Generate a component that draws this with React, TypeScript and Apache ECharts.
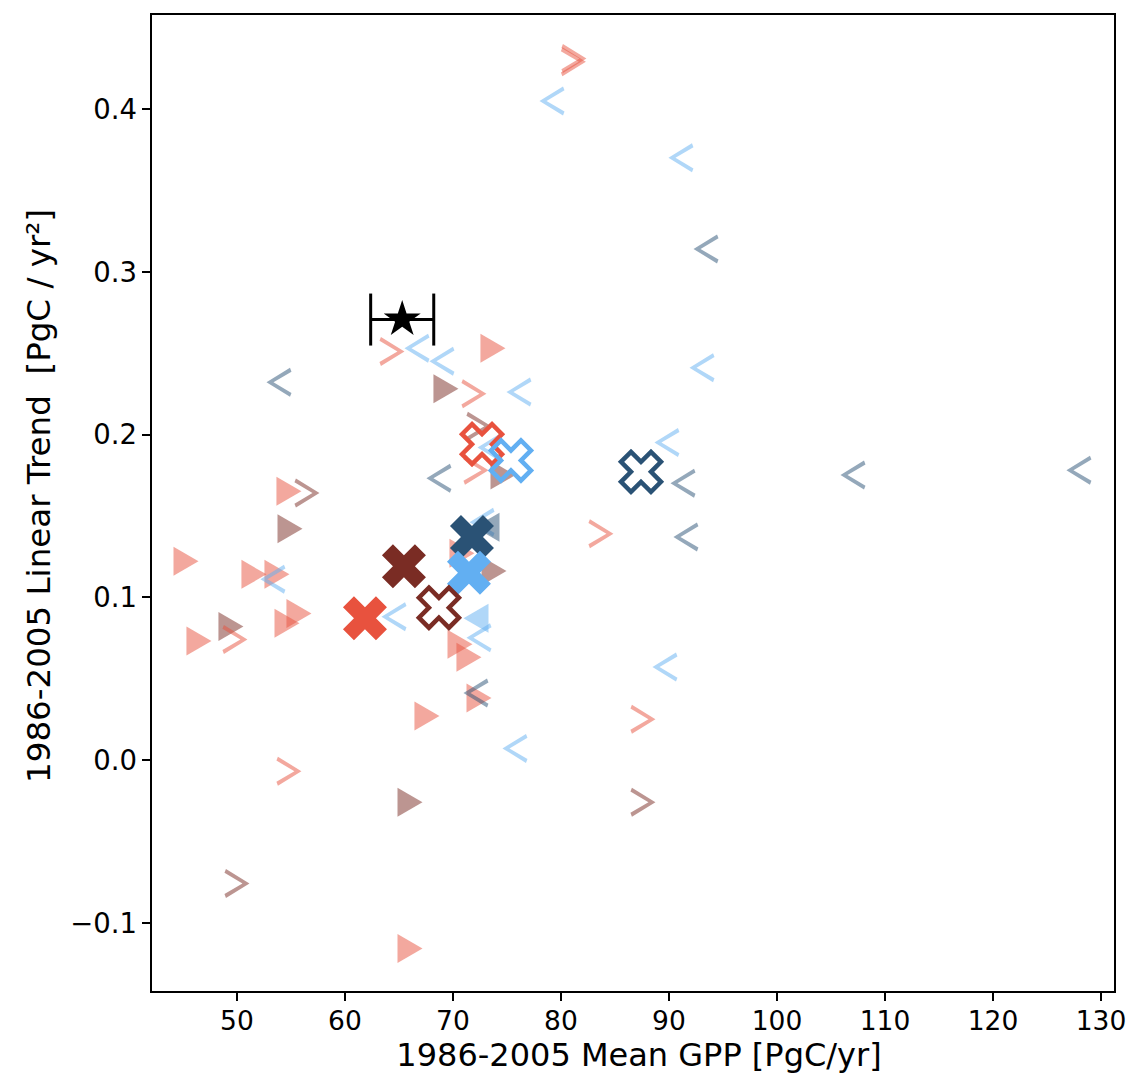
import React, { useEffect, useRef } from "react";
import * as echarts from "echarts";

// ---- axis ticks ----
const xTicks = [50, 60, 70, 80, 90, 100, 110, 120, 130];
const yTicks = [-0.1, 0.0, 0.1, 0.2, 0.3, 0.4];
const xRange = [42.04, 131.3];
const yRange = [-0.1427, 0.4584];

// ---- red family ----
const redTriangles = [
  [73.7, 0.253], [54.81, 0.165], [45.28, 0.122], [51.57, 0.114], [53.7, 0.114],
  [55.74, 0.09], [54.63, 0.084], [46.48, 0.073], [70.65, 0.071], [71.48, 0.063],
  [72.41, 0.038], [67.59, 0.027], [66.02, -0.116], [70.83, 0.127],
];
const redChevrons = [
  [81.2, 0.431], [81.15, 0.429], [64.35, 0.251], [71.94, 0.225], [72.13, 0.178],
  [49.81, 0.074], [83.7, 0.139], [87.59, 0.025], [54.81, -0.007],
];
const redMeanFilled = [[61.85, 0.087]];
const redMeanHollow = [[72.69, 0.194]];

// ---- brown family ----
const brownTriangles = [
  [69.35, 0.228], [54.91, 0.142], [73.8, 0.116], [49.44, 0.082], [66.02, -0.026], [74.63, 0.175],
];
const brownChevrons = [[56.48, 0.164], [87.59, -0.026], [50.0, -0.076], [72.4, 0.205]];
const brownMeanFilled = [[65.46, 0.119]];
const brownMeanHollow = [[68.7, 0.0935]];

// ---- light blue family ----
const lightBlueChevrons = [
  [79.17, 0.405], [91.11, 0.37], [93.06, 0.241], [89.81, 0.195], [66.67, 0.253],
  [68.98, 0.245], [76.11, 0.226], [53.33, 0.111], [64.54, 0.088], [72.41, 0.075],
  [89.63, 0.057], [75.74, 0.007], [72.69, 0.146], [73.43, 0.192],
];
const lightBlueTriangles = [[72.13, 0.087]];
const lightBlueMeanFilled = [[71.48, 0.115]];
const lightBlueMeanHollow = [[75.37, 0.184]];

// ---- navy family ----
const navyChevrons = [
  [93.43, 0.314], [53.89, 0.232], [68.7, 0.173], [91.3, 0.17], [107.04, 0.175],
  [127.96, 0.178], [91.57, 0.137], [72.13, 0.041],
];
const navyTriangles = [[73.15, 0.143]];
const navyMeanFilled = [[71.76, 0.137]];
const navyMeanHollow = [[87.41, 0.177]];

// ---- observation ----
const obsPoint = [[65.3, 0.2706]];
const obsErrorBar = [[65.3, 0.2706, 62.38, 68.22]];

const RED = "#E8523E";
const BROWN = "#7A2C24";
const LTBLUE = "#62AFF2";
const NAVY = "#2A5275";

const TRI_RIGHT = "path://M0,0 L100,60 L0,120 Z";
const TRI_LEFT = "path://M100,0 L0,60 L100,120 Z";
const CHEV_RIGHT = "path://M6,0 L100,60 L6,120 L0,104 L72,60 L0,16 Z";
const CHEV_LEFT = "path://M94,0 L0,60 L94,120 L100,104 L28,60 L100,16 Z";
const XSHAPE =
  "path://M25,0 L50,25 L75,0 L100,25 L75,50 L100,75 L75,100 L50,75 L25,100 L0,75 L25,50 L0,25 Z";
const STAR =
  "path://M100,0 L122.45,69.1 L195.11,69.1 L136.33,111.8 L158.78,180.9 L100,138.2 L41.22,180.9 L63.67,111.8 L4.89,69.1 L77.55,69.1 Z";

const FONT = "DejaVu Sans";

function small(data: number[][], symbol: string, color: string) {
  return {
    type: "scatter",
    data,
    symbol,
    symbolSize: [25, 29],
    itemStyle: { color, opacity: 0.5 },
    silent: true,
  };
}

function meanFilled(data: number[][], color: string) {
  return {
    type: "scatter",
    data,
    symbol: XSHAPE,
    symbolSize: 44,
    itemStyle: { color, opacity: 1 },
    silent: true,
  };
}

function meanHollow(data: number[][], color: string) {
  return {
    type: "scatter",
    data,
    symbol: XSHAPE,
    symbolSize: 40,
    itemStyle: { color: "rgba(255,255,255,0)", borderColor: color, borderWidth: 4.5, opacity: 1 },
    silent: true,
  };
}

export default function App() {
  const ref = useRef<HTMLDivElement>(null);

  useEffect(() => {
    if (!ref.current) return;
    const chart = echarts.init(ref.current, undefined, { renderer: "svg" });
    const option: any = {
      animation: false,
      backgroundColor: "#ffffff",
      grid: {
        left: 151,
        right: 15,
        top: 14,
        bottom: 88,
        show: true,
        borderColor: "#000",
        borderWidth: 2,
        outerBoundsMode: "none",
        containLabel: false,
      },
      xAxis: {
        type: "value",
        min: xRange[0],
        max: xRange[1],
        name: "1986-2005 Mean GPP [PgC/yr]",
        nameLocation: "middle",
        nameGap: 47,
        nameTextStyle: { fontFamily: FONT, fontSize: 32, color: "#000", padding: [0, 0, 0, 12] },
        axisLine: { show: true, onZero: false, lineStyle: { color: "#000", width: 2 } },
        axisTick: { show: true, length: 9, customValues: xTicks, lineStyle: { color: "#000", width: 2 } },
        axisLabel: {
          customValues: xTicks,
          fontFamily: FONT,
          fontSize: 26.5,
          color: "#000",
          margin: 15,
          formatter: (v: number) => String(Math.round(v)),
        },
        splitLine: { show: false },
      },
      yAxis: {
        type: "value",
        min: yRange[0],
        max: yRange[1],
        name: "1986-2005 Linear Trend  [PgC / yr\u00B2]",
        nameLocation: "middle",
        nameGap: 96,
        nameTextStyle: { fontFamily: FONT, fontSize: 32.5, color: "#000", padding: [0, 0, 0, 14] },
        axisLine: { show: true, onZero: false, lineStyle: { color: "#000", width: 2 } },
        axisTick: { show: true, length: 9, customValues: yTicks, lineStyle: { color: "#000", width: 2 } },
        axisLabel: {
          customValues: yTicks,
          fontFamily: FONT,
          fontSize: 27.5,
          color: "#000",
          margin: 14,
          formatter: (v: number) => (v < -1e-9 ? "\u2212" : "") + Math.abs(v).toFixed(1),
        },
        splitLine: { show: false },
      },
      series: [
        small(redTriangles, TRI_RIGHT, RED),
        small(brownTriangles, TRI_RIGHT, BROWN),
        small(redChevrons, CHEV_RIGHT, RED),
        small(brownChevrons, CHEV_RIGHT, BROWN),
        small(lightBlueChevrons, CHEV_LEFT, LTBLUE),
        small(navyChevrons, CHEV_LEFT, NAVY),
        small(lightBlueTriangles, TRI_LEFT, LTBLUE),
        small(navyTriangles, TRI_LEFT, NAVY),
        meanFilled(redMeanFilled, RED),
        meanFilled(brownMeanFilled, BROWN),
        meanFilled(navyMeanFilled, NAVY),
        meanFilled(lightBlueMeanFilled, LTBLUE),
        meanHollow(redMeanHollow, RED),
        meanHollow(lightBlueMeanHollow, LTBLUE),
        meanHollow(navyMeanHollow, NAVY),
        meanHollow(brownMeanHollow, BROWN),
        {
          type: "custom",
          data: obsErrorBar,
          encode: { x: 0, y: 1 },
          silent: true,
          renderItem: (params: any, api: any) => {
            const y = api.value(1);
            const p1 = api.coord([api.value(2), y]);
            const p2 = api.coord([api.value(3), y]);
            const style = { stroke: "#000", lineWidth: 3 };
            return {
              type: "group",
              children: [
                { type: "line", shape: { x1: p1[0], y1: p1[1], x2: p2[0], y2: p2[1] }, style },
                { type: "line", shape: { x1: p1[0], y1: p1[1] - 26, x2: p1[0], y2: p1[1] + 26 }, style },
                { type: "line", shape: { x1: p2[0], y1: p2[1] - 26, x2: p2[0], y2: p2[1] + 26 }, style },
              ],
            };
          },
        },
        {
          type: "scatter",
          data: obsPoint,
          symbol: STAR,
          symbolSize: [37, 35],
          symbolOffset: [0, -2],
          itemStyle: { color: "#000", opacity: 1 },
          silent: true,
          z: 5,
        },
      ],
    };
    chart.setOption(option);
    return () => chart.dispose();
  }, []);

  return (
    <div
      ref={ref}
      style={{ position: "absolute", left: 0, top: 0, width: 1130, height: 1080, background: "#fff" }}
    />
  );
}
